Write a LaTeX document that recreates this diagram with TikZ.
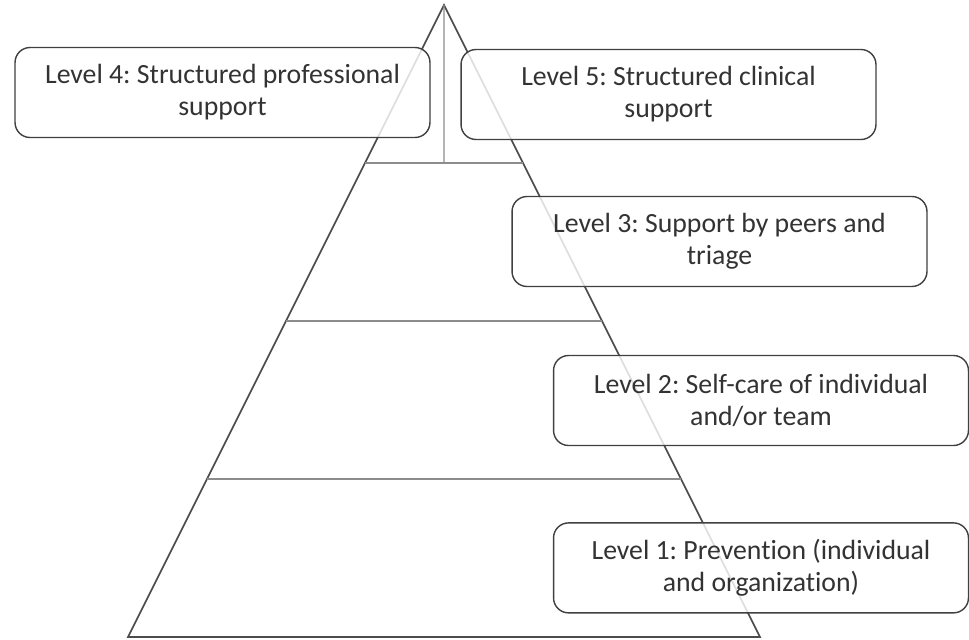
\documentclass[tikz,border=0pt]{standalone}
\usepackage{fontspec}
\setmainfont[Ligatures=NoCommon]{Carlito}
\usepackage{tikz}
\usetikzlibrary{calc,positioning}
\frenchspacing

\begin{document}
\begin{tikzpicture}[x=0.02cm,y=-0.02cm,
  edge/.style={draw=black!70,line width=0.9pt},
  tier/.style={draw=black!45,line width=0.8pt},
  lvl/.style={draw=black!75,line width=0.8pt,rounded corners=0.3cm,fill=white,fill opacity=0.82,text opacity=1,
    minimum width=8.3cm,minimum height=1.8cm,align=center,text=black!80,font=\fontsize{15.8}{18.2}\selectfont}]
\useasboundingbox (0,0) rectangle (969,639);
% pyramid
\coordinate (apex) at (444,5);
\coordinate (baseL) at (128,637);
\coordinate (baseR) at (760,637);
\draw[edge] (baseL) -- (apex) -- (baseR) -- cycle;
\foreach \f [count=\i] in {0.25,0.5,0.75}
  \draw[tier] ($(apex)!\f!(baseL)$) coordinate (tL\i) -- ($(apex)!\f!(baseR)$) coordinate (tR\i);
\draw[tier] (apex) -- ($(tL1)!0.5!(tR1)$);
% levels
\node[lvl] (lv4) at (222.5,92.5) {Level 4: Structured professional\\support};
\node[lvl] (lv5) at (668.5,94.5) {Level 5: Structured clinical\\support};
\node[lvl] (lv3) at (719.5,241.5) {Level 3: Support by peers and\\triage};
\node[lvl] (lv2) at (761,400.5) {Level 2: Self-care of individual\\and/or team};
\node[lvl,below=1.52cm of lv2] (lv1) {Level 1: Prevention (individual\\and organization)};
\end{tikzpicture}
\end{document}
